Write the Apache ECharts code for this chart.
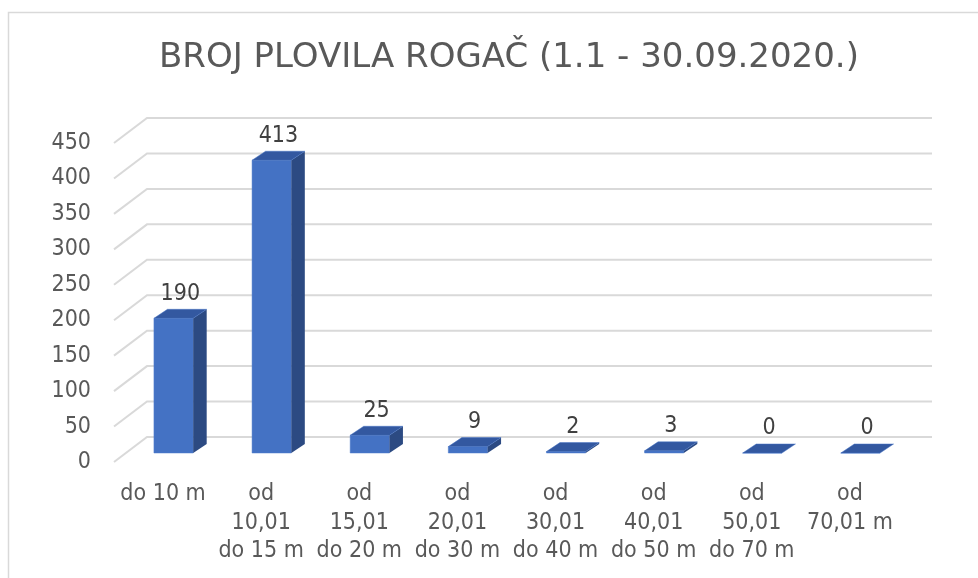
<!DOCTYPE html>
<html>
<head>
<meta charset="utf-8">
<script src="https://cdn.jsdelivr.net/npm/echarts@6/dist/echarts.min.js"></script>
<style>
  html, body { margin: 0; padding: 0; background: #fff; }
  #main { width: 978px; height: 578px; }
</style>
</head>
<body>
<div id="main"></div>
<script>
// podaci
const titleText = 'BROJ PLOVILA ROGAČ (1.1 - 30.09.2020.)'
const categories = ['do 10 m', 'od 10,01 do 15 m', 'od 15,01 do 20 m', 'od 20,01 do 30 m',
  'od 30,01 do 40 m', 'od 40,01 do 50 m', 'od 50,01 do 70 m', 'od 70,01 m']
const tickLabels = ['do 10 m', 'od\n10,01\ndo 15 m', 'od\n15,01\ndo 20 m', 'od\n20,01\ndo 30 m',
  'od\n30,01\ndo 40 m', 'od\n40,01\ndo 50 m', 'od\n50,01\ndo 70 m', 'od\n70,01 m']
const values = [190, 413, 25, 9, 2, 3, 0, 0]
const yTicks = [0, 50, 100, 150, 200, 250, 300, 350, 400, 450]

const FONT = '"DejaVu Sans Condensed", "DejaVu Sans"'
const DEPTH = [33, -25]      // dubina poda / zida
const BAR_FRONT = [10.5, -9] // pomak prednje strane stupca
const BAR_DEPTH = [13.5, -9] // dubina stupca

const chart = echarts.init(document.getElementById('main'))

// 3D stupac: prednja strana, bok, vrh + oznaka
function renderBar(params, api) {
  const i = api.value(0)
  const v = api.value(1)
  const top = api.coord([i, v])
  const base = api.coord([i, 0])
  const w = api.size([1, 0])[0] * 0.4
  const x0 = top[0] - w / 2 + BAR_FRONT[0]
  const x1 = x0 + w
  const yT = top[1] + BAR_FRONT[1]
  const yB = base[1] + BAR_FRONT[1]
  const dx = BAR_DEPTH[0], dy = BAR_DEPTH[1]
  return {
    type: 'group',
    children: [
      {
        type: 'polygon',
        shape: { points: [[x0, yB], [x1, yB], [x1, yT], [x0, yT]] },
        style: { fill: '#4472C4', stroke: '#4F7DCC', lineWidth: 0.5 }
      },
      {
        type: 'polygon',
        shape: { points: [[x1, yB], [x1 + dx, yB + dy], [x1 + dx, yT + dy], [x1, yT]] },
        style: { fill: '#2C4A82' }
      },
      {
        type: 'polygon',
        shape: { points: [[x0, yT], [x1, yT], [x1 + dx, yT + dy], [x0 + dx, yT + dy]] },
        style: { fill: '#3358A0', stroke: '#4472C4', lineWidth: 0.5 }
      },
      {
        type: 'text',
        style: {
          text: String(v),
          x: (x0 + x1) / 2 + dx / 2,
          y: yT + dy / 2 - 20,
          align: 'center',
          verticalAlign: 'middle',
          fill: '#404040',
          font: '23px ' + FONT
        }
      }
    ]
  }
}

// mreža: dijagonala na podu + linija na stražnjem zidu
function renderGrid(params, api) {
  const cs = params.coordSys
  const y = api.coord([0, api.value(0)])[1]
  const x = cs.x
  return {
    type: 'polyline',
    shape: { points: [[x, y], [x + DEPTH[0], y + DEPTH[1]], [x + cs.width + DEPTH[0], y + DEPTH[1]]] },
    style: { fill: null, stroke: '#D9D9D9', lineWidth: 2 },
    silent: true
  }
}

chart.setOption({
  backgroundColor: '#fff',
  animation: false,
  title: {
    text: titleText,
    left: 154,
    top: 36,
    textStyle: { fontFamily: 'DejaVu Sans', fontSize: 34, fontWeight: 'normal', color: '#595959' }
  },
  grid: { left: 114, right: 79, top: 143, bottom: 116 },
  xAxis: {
    type: 'category',
    data: categories,
    axisLine: { show: false },
    axisTick: { show: false },
    axisLabel: {
      interval: 0,
      margin: 18,
      lineHeight: 28.5,
      fontFamily: FONT,
      fontSize: 23,
      color: '#595959',
      formatter: (val, idx) => tickLabels[idx]
    }
  },
  yAxis: {
    type: 'value',
    min: 0,
    max: 450,
    interval: 50,
    splitLine: { show: false },
    axisLine: { show: false },
    axisTick: { show: false },
    axisLabel: { margin: 23, fontFamily: FONT, fontSize: 23, color: '#595959' }
  },
  graphic: [{
    type: 'rect',
    shape: { x: 8.5, y: 12.5, width: 990, height: 600 },
    style: { fill: null, stroke: '#D9D9D9', lineWidth: 1.5 },
    silent: true
  }],
  series: [
    {
      type: 'custom',
      renderItem: renderGrid,
      data: yTicks.map(t => [t]),
      encode: { y: 0 },
      z: 1
    },
    {
      type: 'custom',
      renderItem: renderBar,
      data: values.map((v, i) => [i, v]),
      encode: { x: 0, y: 1 },
      z: 2
    }
  ]
})
</script>
</body>
</html>
